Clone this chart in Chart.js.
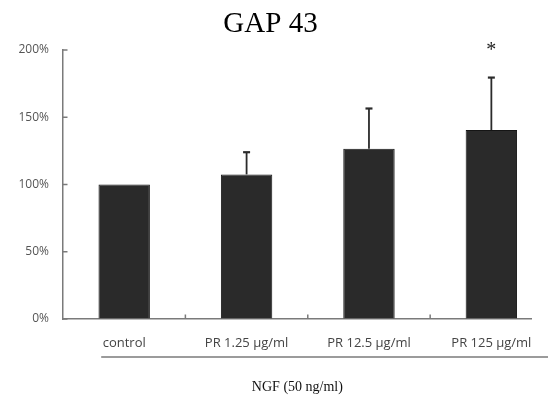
<!DOCTYPE html>
<html>
<head>
<meta charset="utf-8">
<script src="https://cdn.jsdelivr.net/npm/chart.js@4/dist/chart.umd.min.js"></script>
<style>
  html, body { margin: 0; padding: 0; background: #fff; overflow: hidden; }
  canvas { display: block; }
</style>
</head>
<body>
<canvas id="c" width="548" height="403"></canvas>
<script>
// ---- data ----
const categories = ['control', 'PR 1.25 \u00b5g/ml', 'PR 12.5 \u00b5g/ml', 'PR 125 \u00b5g/ml'];
const values = [100, 107.5, 126.5, 140.5];  // % of control
const errors = [0, 16.5, 30, 39];           // upper error bar length (%)
const marks = ['', '', '', '*'];            // significance marks
const yTicks = [0, 50, 100, 150, 200];

const AXIS_COLOR = '#7a7a7a';
const BAR_COLOR = '#2a2a2a';

const extras = {
  id: 'extras',
  afterDatasetsDraw(chart) {
    const ctx = chart.ctx;
    const xs = chart.scales.x, ys = chart.scales.y;
    const area = chart.chartArea;
    ctx.save();
    // error bars (upper half only) with caps
    ctx.strokeStyle = '#2b2b2b';
    values.forEach((v, i) => {
      if (!errors[i]) return;
      const x = xs.getPixelForValue(i);
      const y0 = ys.getPixelForValue(v);
      const y1 = ys.getPixelForValue(v + errors[i]);
      ctx.lineWidth = 1.8;
      ctx.beginPath();
      ctx.moveTo(x, y0);
      ctx.lineTo(x, y1);
      ctx.stroke();
      ctx.lineWidth = 2.2;
      ctx.beginPath();
      ctx.moveTo(x - 3.5, y1);
      ctx.lineTo(x + 3.5, y1);
      ctx.stroke();
    });
    // significance marks
    ctx.fillStyle = '#222';
    ctx.font = '20px "Liberation Serif"';
    ctx.textAlign = 'center';
    ctx.textBaseline = 'middle';
    marks.forEach((m, i) => {
      if (!m) return;
      ctx.fillText(m, xs.getPixelForValue(i), ys.getPixelForValue(200) + 1);
    });
    // inward tick marks on y axis
    ctx.strokeStyle = AXIS_COLOR;
    ctx.lineWidth = 1.5;
    yTicks.forEach(t => {
      const y = ys.getPixelForValue(t);
      ctx.beginPath();
      ctx.moveTo(area.left, y);
      ctx.lineTo(area.left + 4.5, y);
      ctx.stroke();
    });
    // inward tick marks between categories on x axis
    for (let i = 0; i < categories.length - 1; i++) {
      const x = xs.getPixelForValue(i + 0.5);
      ctx.beginPath();
      ctx.moveTo(x, area.bottom);
      ctx.lineTo(x, area.bottom - 4.5);
      ctx.stroke();
    }
    // grouping underline below category labels
    const ux0 = xs.getPixelForValue(0) - 23;
    const uy = area.bottom + 38;
    ctx.beginPath();
    ctx.moveTo(ux0, uy);
    ctx.lineTo(chart.width, uy);
    ctx.stroke();
    ctx.restore();
  }
};

new Chart(document.getElementById('c'), {
  type: 'bar',
  data: {
    datasets: [{
      data: values.map((v, i) => ({ x: i, y: v })),
      backgroundColor: BAR_COLOR,
      borderColor: '#151515',
      borderWidth: 1,
      categoryPercentage: 1,
      barPercentage: 0.42
    }]
  },
  options: {
    responsive: false,
    devicePixelRatio: 1,
    animation: false,
    layout: { padding: { left: 0, right: 7, top: 0, bottom: 3.6 } },
    plugins: {
      legend: { display: false },
      tooltip: { enabled: false },
      title: {
        display: true,
        text: 'GAP 43',
        color: '#000',
        font: { family: '"Liberation Serif"', size: 29, weight: 'normal' },
        padding: { top: 7, bottom: 8.2 }
      }
    },
    scales: {
      x: {
        type: 'linear',
        offset: false,
        min: -0.5,
        max: 3.33,
        afterBuildTicks: (s) => { s.ticks = categories.map((_, i) => ({ value: i })); },
        ticks: {
          callback: (v) => categories[v],
          autoSkip: false,
          maxRotation: 0,
          padding: 16,
          color: '#444',
          font: { family: '"Open Sans"', size: 13 }
        },
        grid: { drawOnChartArea: false, drawTicks: false },
        border: { color: AXIS_COLOR, width: 1.5 },
        title: {
          display: true,
          text: 'NGF (50 ng/ml)',
          color: '#111',
          font: { family: '"Liberation Serif"', size: 14, weight: 'normal' },
          padding: { top: 12, bottom: 4 }
        }
      },
      y: {
        min: 0,
        max: 200,
        afterBuildTicks: (s) => { s.ticks = yTicks.map(v => ({ value: v })); },
        afterFit: (s) => { s.width = 63; },
        ticks: {
          callback: (v) => v + '%',
          padding: 14,
          color: '#555',
          font: { family: '"Open Sans"', size: 12 }
        },
        grid: { drawOnChartArea: false, drawTicks: false },
        border: { color: AXIS_COLOR, width: 1.5 }
      }
    }
  },
  plugins: [extras]
});
</script>
</body>
</html>
